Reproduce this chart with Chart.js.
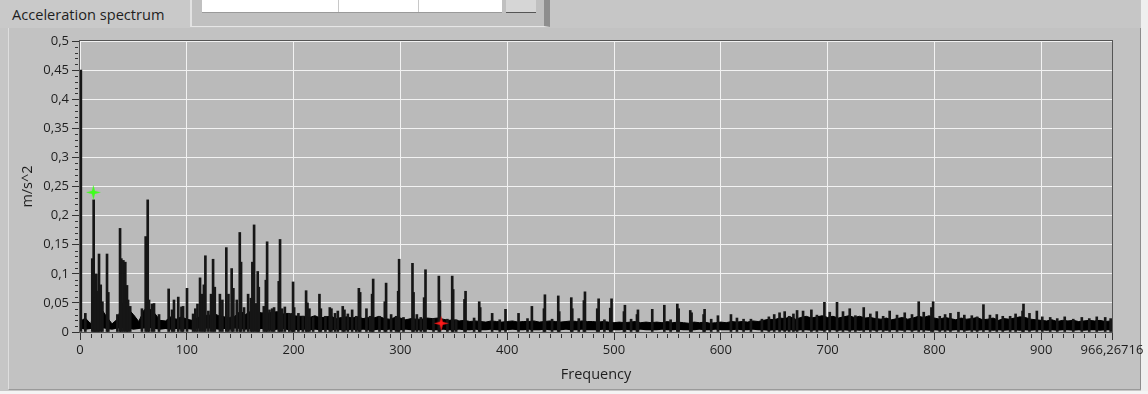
<!DOCTYPE html>
<html>
<head>
<meta charset="utf-8">
<script src="https://cdn.jsdelivr.net/npm/chart.js@4.4.0/dist/chart.umd.min.js"></script>
<style>
  html, body { margin: 0; padding: 0; }
  body { width: 1148px; height: 394px; position: relative; overflow: hidden; background: #c6c6c6; font-family: "Open Sans", sans-serif; }
  #panel { position: absolute; left: 8px; top: 28px; width: 1131px; height: 361px; background: #c2c2c2; border-left: 1px solid #dedede; border-right: 2px solid #8c8c8c; border-bottom: 1px solid #9a9a9a; }
  #edgeR { position: absolute; left: 1141px; top: 0; width: 7px; height: 394px; background: #efefef; }
  #edgeB { position: absolute; left: 0; top: 391px; width: 1148px; height: 3px; background: #f4f4f4; }
  #tab { position: absolute; left: 0; top: 0; width: 190px; height: 28px; background: #c9c9c9; }
  #title { position: absolute; left: 12px; top: 4px; font-size: 14.6px; color: #1e1e1e; }
  #ctrl { position: absolute; left: 190px; top: 0; width: 360px; height: 27px; background: #c0c0c0; border-left: 2px solid #e2e2e2; border-right: 6px solid #8e8e8e; border-bottom: 1px solid #e6e6e6; box-sizing: border-box; }
  #ctrl .white { position: absolute; left: 10px; top: 0; width: 300px; height: 12px; background: #fff; border-bottom: 1px solid #9a9a9a; }
  #ctrl .sep { position: absolute; top: 0; width: 1px; height: 12px; background: #c8c8c8; }
  #ctrl .btn { position: absolute; left: 314px; top: 0; width: 30px; height: 12px; background: #d6d6d6; border-bottom: 1px solid #555; }
  canvas { position: absolute; left: 0; top: 0; }
</style>
</head>
<body>
<div id="tab"></div>
<div id="title">Acceleration spectrum</div>
<div id="ctrl"><div class="white"></div><div class="sep" style="left:146px"></div><div class="sep" style="left:226px"></div><div class="btn"></div></div>
<div id="panel"></div>
<div id="edgeR"></div>
<div id="edgeB"></div>
<canvas id="chart" width="1148" height="394"></canvas>
<script>
// values in thousandths of m/s^2 (converted when the datasets are built)

// noise floor, sampled every bandStep Hz starting at 0
const bandStep = 5;
const floorHigh = [
  18,24,14,44,40,26,14,22,50,40,30,18,38,40,32,20,19,26,22,26,22,20,24,30,28,32,28,26,25,27,36,30,
  36,34,33,32,34,35,31,32,28,27,27,25,28,24,26,27,23,25,26,24,26,23,25,24,27,23,22,25,24,21,23,22,
  22,24,23,24,22,20,21,19,20,18,19,18,17,19,18,17,18,19,17,18,18,19,17,18,19,18,17,18,19,18,19,18,
  18,17,18,17,16,17,16,17,18,16,17,16,17,16,18,16,17,16,15,17,16,17,15,16,17,16,18,17,18,17,19,18,
  20,22,21,24,23,26,22,25,27,24,26,28,25,27,24,26,28,25,27,24,25,23,22,24,21,23,25,22,24,27,25,28,
  24,22,25,23,21,24,22,23,25,21,22,24,20,23,22,24,26,25,22,21,20,19,21,18,20,19,20,18,19,20,19,20,18,19
];
const floorLow = [
  6,4,5,8,7,5,4,6,7,6,4,5,6,7,5,4,5,4,5,4,5,4,6,5,6,5,4,5,4,6,5,4,
  5,4,5,4,3,4,5,3,4,3,4,3,4,3,4,3,4,3,3,4,3,4,3,3,4,3,4,3,3,4,3,3,
  3,4,3,3,4,3,3,4,3,3,4,3,3,4,3,3,3,4,3,3,4,3,3,4,3,3,3,4,3,3,4,3,
  3,3,4,3,3,3,4,3,3,4,3,3,3,4,3,3,4,3,3,3,4,3,3,4,3,3,3,4,3,3,4,3,
  3,2,3,3,2,3,2,3,3,2,3,2,3,3,2,3,2,3,2,3,3,2,3,2,3,3,2,3,2,3,3,2,
  3,2,3,2,3,3,2,3,2,3,3,2,3,2,3,3,2,3,2,3,3,2,3,2,3,3,2,3,2,3,3,2,3,3
];

// spectral lines: [frequency Hz, amplitude]
const peaks = [
  [0.8,450],[5,32],[11.5,126],[12.8,227],[14,58],[15.3,100],[16.5,70],[17.8,134],[19.4,81],[21,52],[25.3,134],[26.5,68],
  [35,30],[37.5,178],[38.7,126],[40.6,123],[42.4,120],[44,80],[45,55],[47,44],[58,40],[61.5,164],[63.4,227],[64.6,55],
  [67.4,48],[69.3,49],[74,30],[83,74],[86.2,38],[88,55],[92,60],[95,43],[96.5,44],[100.2,75],[105.9,31],
  [108,40],[110,48],[112.4,93],[114.3,65],[116,81],[117.4,131],[120.2,36],[122.7,65],[124.6,125],
  [126.2,77],[131,65],[133.3,55],[137,145],[139,65],[142,109],[143.6,75],[146.8,55],[149.6,171],
  [150.8,120],[153.6,42],[157.4,65],[160,58],[161.4,120],[163,184],[164.9,49],[166.4,104],[167.4,77],
  [172.1,44],[174,89],[175.2,155],[177.4,38],[179.9,40],[181.7,42],[186.1,87],[187.3,159],[189.2,40],
  [191.8,43],[196,32],[198.3,32],[199.5,86],[200.5,42],[204.5,32],[208.6,27],[211.7,71],[213,50],
  [214.8,40],[218.3,25],[224.2,65],[225.5,40],[229.8,27],[233.9,42],[235.4,40],[238.8,32],[241.4,36],
  [246,44],[247.6,38],[250.8,31],[254.8,38],[258.6,27],[261.1,75],[262.3,68],[268.2,40],[271.7,27],
  [273.5,65],[274.5,91],[280.4,27],[285.4,52],[286.6,84],[291.3,30],[296,27],[297.9,70],[298.8,125],
  [302.9,25],[311.3,118],[312.3,68],[315.4,30],[319.1,25],
  [322.2,59],[323.5,107],[331,23],[336,96],[337,54],[344,22],[348.5,96],[349.4,73],[352.2,21],
  [360,56],[361,70],[369,24],[373.8,52],[374.7,42],[385.9,32],[393,21],[398.4,39],
  [410.6,32],[419,23],[423.1,44],[434.4,40],[435.3,64],[442,22],[447.8,62],[448.7,35],
  [460,59],[460.9,40],[467,23],[471.8,54],[472.8,69],[484.3,40],[485.6,57],[491,21],
  [496.5,41],[497.7,57],[509.3,35],[510.2,46],[516,22],[521.5,30],[522.4,38],
  [535.8,39],[547.1,46],[553,21],[559.3,48],[560.5,40],[571.4,37],[572.6,33],
  [583.9,30],[584.8,39],[591,22],[597.3,28],[609.5,30],[615.1,24],[621.3,22],
  [628.2,22],[638.5,22],[645,26],[650,30],[655,33],[659.8,35],[664,27],[668,31],[671.4,37],[677,36],
  [684.8,38],[690,29],[697,51],[702,34],[708.8,51],[714.4,35],[720.7,40],[726,28],[733.8,42],[740,31],
  [746,35],[752,27],[758.1,36],[765,29],[772.2,33],[779,30],[785.3,52],[790,34],[797.2,42],[798.8,52],
  [805,27],[810,30],[815,32],[822.5,34],[828,29],[835,28],[840,26],[845.9,47],[852,29],[858.4,30],
  [864,27],[870.9,27],[876,31],[882.5,36],[883.4,48],[889,32],[895.9,36],[901,26],[908.4,25],[915,23],
  [922,26],[930,22],[938,25],[945,23],[952,26],[959.9,25],[965,23]
];

// cursors (green = cursor 1, red = cursor 2), in m/s^2
const cursorFreq = [12.5, 338.2];
const cursorAmp = [0.24, 0.015];
const cursorColor = ['#3dff1a', '#ff1a1a'];

const xMax = 966.26716;
const xTicks = [0, 100, 200, 300, 400, 500, 600, 700, 800, 900, 966.26716];
const yTicks = [0, 0.05, 0.1, 0.15, 0.2, 0.25, 0.3, 0.35, 0.4, 0.45, 0.5];

const ink = '#1e1e1e';
const fontFam = '"Open Sans", sans-serif';

function comma(v){ return String(v).replace('.', ','); }

function sparkle(color){
  const c = document.createElement('canvas');
  c.width = 15; c.height = 15;
  const g = c.getContext('2d');
  g.fillStyle = color;
  g.beginPath();
  g.moveTo(7.5, 0); g.lineTo(9, 6); g.lineTo(15, 7.5); g.lineTo(9, 9);
  g.lineTo(7.5, 15); g.lineTo(6, 9); g.lineTo(0, 7.5); g.lineTo(6, 6);
  g.closePath(); g.fill();
  return c;
}

const lowPts = floorLow.map((v, i) => ({ x: i * bandStep, y: v / 1000 }));
const highPts = floorHigh.map((v, i) => ({ x: i * bandStep, y: v / 1000 }));
const peakPts = peaks.map(p => ({ x: p[0], y: p[1] / 1000 }));
const cursorPts = cursorFreq.map((f, i) => ({ x: f, y: cursorAmp[i] }));

// plot background + frame + minor ticks
const plotDeco = {
  id: 'plotDeco',
  beforeDraw(chart){
    const { ctx, chartArea: a } = chart;
    ctx.save();
    ctx.fillStyle = '#bababa';
    ctx.fillRect(a.left, a.top, a.right - a.left, a.bottom - a.top);
    ctx.restore();
  },
  afterDraw(chart){
    const { ctx, chartArea: a, scales: { x, y } } = chart;
    ctx.save();
    ctx.strokeStyle = '#333';
    ctx.lineWidth = 1;
    ctx.beginPath();
    for (let f = 10; f < xMax; f += 10) {
      if (f % 100 === 0) continue;
      const px = Math.round(x.getPixelForValue(f)) + 0.5;
      ctx.moveTo(px, a.bottom + 2); ctx.lineTo(px, a.bottom + 6);
    }
    for (let k = 1; k < 50; k++) {
      if (k % 5 === 0) continue;
      const py = Math.round(y.getPixelForValue(k / 100)) + 0.5;
      ctx.moveTo(a.left - 5, py); ctx.lineTo(a.left - 2, py);
    }
    ctx.stroke();
    ctx.strokeStyle = '#555';
    ctx.strokeRect(a.left - 0.5, a.top - 0.5, a.right - a.left + 1, a.bottom - a.top + 1);
    ctx.restore();
  }
};

new Chart(document.getElementById('chart'), {
  type: 'line',
  data: {
    datasets: [
      { type: 'line', data: cursorPts, showLine: false, order: 0,
        pointStyle: cursorColor.map(sparkle), pointRadius: 7, pointHoverRadius: 7 },
      { type: 'bar', data: peakPts, order: 1, backgroundColor: '#161616', barThickness: 2, borderWidth: 0 },
      { type: 'line', data: lowPts, order: 3, borderWidth: 0, pointRadius: 0, fill: false, borderColor: '#000' },
      { type: 'line', data: highPts, order: 2, borderWidth: 1, pointRadius: 0, borderColor: '#000',
        backgroundColor: '#000', fill: '-1' }
    ]
  },
  options: {
    responsive: false,
    animation: false,
    events: [],
    layout: { padding: { left: 0, right: 36, top: 41, bottom: 0 } },
    plugins: { legend: { display: false }, tooltip: { enabled: false } },
    scales: {
      x: {
        type: 'linear', min: 0, max: xMax, offset: false,
        afterFit: s => { s.height = 62; },
        afterBuildTicks: s => { s.ticks = xTicks.map(v => ({ value: v })); },
        grid: { offset: false, color: '#f2f2f2', tickColor: '#333', tickLength: 8, lineWidth: 1 },
        border: { display: false },
        ticks: { color: ink, font: { family: fontFam, size: 13 }, padding: 2, maxRotation: 0,
          autoSkip: false, callback: v => comma(v) },
        title: { display: true, text: 'Frequency', color: ink, font: { family: fontFam, size: 14.5 },
          padding: { bottom: 10 } }
      },
      y: {
        type: 'linear', min: 0, max: 0.5,
        afterFit: s => { s.width = 80; },
        afterBuildTicks: s => { s.ticks = yTicks.map(v => ({ value: v })); },
        grid: { offset: false, color: '#f2f2f2', tickColor: '#333', tickLength: 8, lineWidth: 1 },
        border: { display: false },
        ticks: { color: ink, font: { family: fontFam, size: 13 }, padding: 3,
          callback: v => comma(v) },
        title: { display: true, text: 'm/s^2', color: ink, font: { family: fontFam, size: 14.5 },
          padding: { top: 19 } }
      }
    }
  },
  plugins: [plotDeco]
});
</script>
</body>
</html>
